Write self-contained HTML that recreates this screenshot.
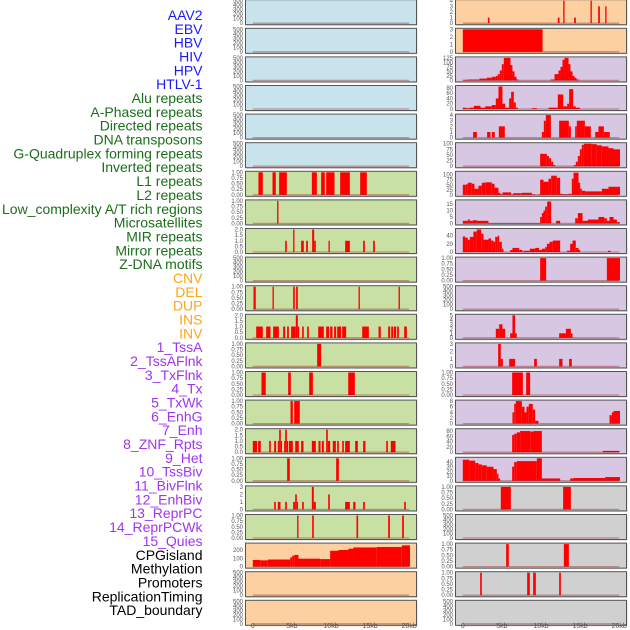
<!DOCTYPE html>
<html><head><meta charset="utf-8">
<style>
html,body{margin:0;padding:0;background:#fff;}
svg{display:block;font-family:"Liberation Sans",sans-serif;}
</style></head>
<body>
<svg id="chart" width="630" height="630" viewBox="0 0 630 630" xmlns="http://www.w3.org/2000/svg"></svg>
<script>
// ---- data: [startKb, endKb, value] ----
const trackLabels = ["AAV2","EBV","HBV","HIV","HPV","HTLV-1","Alu repeats","A-Phased repeats","Directed repeats","DNA transposons","G-Quadruplex forming repeats","Inverted repeats","L1 repeats","L2 repeats","Low_complexity A/T rich regions","Microsatellites","MIR repeats","Mirror repeats","Z-DNA motifs","CNV","DEL","DUP","INS","INV","1_TssA","2_TssAFlnk","3_TxFlnk","4_Tx","5_TxWk","6_EnhG","7_Enh","8_ZNF_Rpts","9_Het","10_TssBiv","11_BivFlnk","12_EnhBiv","13_ReprPC","14_ReprPCWk","15_Quies","CPGisland","Methylation","Promoters","ReplicationTiming","TAD_boundary"];
const labelColors = ["#1a1aff","#1a1aff","#1a1aff","#1a1aff","#1a1aff","#1a1aff","#1a6f1a","#1a6f1a","#1a6f1a","#1a6f1a","#1a6f1a","#1a6f1a","#1a6f1a","#1a6f1a","#1a6f1a","#1a6f1a","#1a6f1a","#1a6f1a","#1a6f1a","#ffa51a","#ffa51a","#ffa51a","#ffa51a","#ffa51a","#a035f0","#a035f0","#a035f0","#a035f0","#a035f0","#a035f0","#a035f0","#a035f0","#a035f0","#a035f0","#a035f0","#a035f0","#a035f0","#a035f0","#a035f0","#000","#000","#000","#000","#000"];
const xTickValues = [0,5,10,15,20];
const xTickLabels = ["0","5kb","10kb","15kb","20kb"];

const L6 = [[0.72,1.28,1],[2.52,2.94,1],[3.37,4.35,1],[7.55,8.19,1],[8.74,9.21,1],[9.38,10.45,1],[11.17,12.41,1],[13.73,14.58,1]];
const L7 = [[3.11,3.28,1]];
const L8 = [[4.14,4.35,1],[5.16,5.33,2],[6.18,6.52,1],[6.82,7.04,1],[7.59,7.85,2],[7.85,8.06,1],[9.68,9.85,1],[11.81,12.41,1],[14.11,14.33,1],[15.39,15.61,1]];
const L10 = [[0.09,0.38,1],[2.52,2.69,1],[5.16,5.37,1],[5.54,5.76,1],[13.52,13.69,1],[18.64,18.81,1]];
const L11 = [[0.43,1.28,1],[1.71,2.26,1],[2.6,3.33,1],[3.88,4.14,1],[4.39,4.61,1],[4.9,5.5,1],[5.5,5.76,2],[5.76,5.93,1],[6.31,6.52,1],[6.95,7.16,1],[8.36,9.08,1],[9.38,9.76,1],[9.89,10.19,1],[10.4,10.66,1],[10.79,11.3,1],[11.43,11.94,1],[13.99,14.84,1],[16.08,16.37,1],[17.31,17.57,1],[17.7,17.95,1],[18.04,18.34,1],[18.46,18.68,1],[19.36,19.7,1]];
const L12 = [[8.23,8.74,1]];
const L13 = [[1.11,1.66,1],[4.52,4.86,1],[7.21,7.68,1],[12.2,13.05,1]];
const L14 = [[4.82,5.12,1],[5.29,6.01,1]];
const L15 = [[0,0.55,1],[0.68,1.02,1],[2.09,2.3,1],[2.73,2.98,1],[3.2,3.37,1],[3.37,3.58,2],[3.58,3.62,1],[4.01,4.14,1],[4.14,4.35,2],[4.35,4.43,1],[4.61,5.12,1],[5.42,5.88,1],[6.18,6.48,1],[7.55,8.06,1],[8.4,8.66,1],[8.83,9.08,1],[9.38,9.59,2],[9.59,9.89,1],[10.23,10.62,1],[10.79,11.0,1],[11.43,11.64,1],[11.81,12.41,1],[13.09,13.43,1],[14.11,14.41,1],[17.06,17.27,1],[17.65,18.25,1]];
const L16 = [[4.39,4.73,1],[10.66,11.0,1]];
const L17 = [[2.73,2.94,1],[3.2,3.54,1],[4.14,4.35,1],[5.16,5.42,1],[5.42,5.63,2],[5.63,5.76,1],[6.31,6.52,1],[7.55,7.8,3],[7.8,8.06,1],[9.64,9.85,2],[11.81,12.41,1],[12.84,13.13,1],[14.11,14.33,1],[19.36,19.57,1]];
const L18 = [[5.67,5.84,1],[7.59,7.8,1],[13.26,13.47,1],[17.31,17.53,1],[19.1,19.32,1]];
const L19 = [[0,0.94,80],[0.94,1.92,75],[1.92,4.78,85],[4.78,5.03,110],[5.03,5.29,130],[5.29,5.84,140],[5.84,8.61,95],[8.61,9.89,90],[9.89,10.96,190],[10.96,12.24,200],[12.24,12.88,215],[12.88,15.86,230],[15.86,19.06,235],[19.06,20.1,255]];

const R0 = [[3.2,3.41,1],[12.15,12.37,1],[12.84,13.01,4],[14.24,14.46,1],[16.33,16.5,4],[17.31,17.53,3],[18.21,18.38,3]];
const R1 = [[0,10.2,3]];
const R2 = [[0,0.6,3],[0.6,2.13,5],[2.13,3.07,10],[3.07,3.71,15],[3.71,4.22,20],[4.22,4.48,25],[4.48,4.73,35],[4.73,4.99,55],[4.99,5.24,90],[5.24,6.1,125],[6.1,6.35,85],[6.35,6.61,50],[6.61,6.87,20],[6.87,7.12,5],[11.21,11.73,5],[11.73,12.24,35],[12.24,12.49,55],[12.49,12.75,75],[12.75,13.01,115],[13.01,13.52,125],[13.52,13.77,90],[13.77,14.03,50],[14.03,14.28,25],[14.28,14.54,15],[14.54,14.88,5]];
const R3 = [[0,0.38,5],[0.38,0.9,3],[0.9,1.41,5],[1.41,2.26,12],[2.26,2.86,5],[2.86,3.71,10],[3.71,4.22,15],[4.22,4.56,40],[4.56,5.07,85],[5.07,5.42,20],[5.42,5.93,5],[5.93,6.18,40],[6.18,6.52,65],[6.52,6.78,25],[6.78,7.04,5],[8.83,9.47,3],[10.96,12.15,5],[12.15,12.84,55],[12.84,13.35,10],[13.35,13.6,20],[13.6,14.11,75],[14.11,14.45,10],[14.45,14.97,5]];
const R4 = [[1.32,1.79,1],[3.11,3.54,1],[3.71,4.09,1],[4.61,5.37,2],[10.11,10.36,1],[10.36,10.62,3],[10.62,11.26,4],[12.32,13.56,3],[13.56,13.82,2],[14.37,14.58,2],[14.58,15.61,3],[15.61,16.37,2],[16.93,17.35,1],[17.35,18.04,2],[18.04,18.8,1]];
const R5 = [[9.89,10.75,55],[10.75,11.04,45],[11.04,11.3,35],[11.3,11.56,20],[11.56,11.81,5],[14.2,14.45,5],[14.45,14.71,20],[14.71,14.97,45],[14.97,15.22,75],[15.22,15.48,95],[15.48,16.5,100],[16.5,17.14,98],[17.14,17.78,93],[17.78,18.63,88],[18.63,19.27,80],[19.27,20.1,75]];
const R6 = [[0,0.38,50],[0.38,0.64,52],[0.64,1.15,60],[1.15,1.49,55],[1.49,2.0,30],[2.0,2.43,45],[2.43,2.86,60],[2.86,3.71,62],[3.71,4.05,55],[4.05,4.56,35],[4.56,4.82,10],[4.82,5.07,3],[5.07,6.18,12],[6.18,6.44,2],[6.44,7.55,8],[7.55,8.83,10],[8.83,9.25,2],[9.68,9.89,2],[9.89,10.32,75],[10.32,10.96,65],[10.96,11.3,80],[11.3,12.02,95],[12.02,12.45,85],[12.45,12.75,5],[12.75,13.52,3],[13.52,13.94,5],[13.94,14.16,80],[14.16,14.8,110],[14.8,15.01,60],[15.01,15.22,30],[15.22,15.65,20],[15.65,17.78,17],[17.78,18.63,30],[18.63,20.1,40]];
const R7 = [[0,0.64,2],[0.64,0.9,3],[0.9,1.28,2],[1.28,1.79,2.5],[1.79,3.28,2],[3.28,9.89,0.3],[9.89,10.11,5],[10.11,10.32,8],[10.32,10.53,10],[10.53,10.79,13],[10.79,11.3,17],[11.94,12.45,2],[14.37,14.71,4],[14.71,15.31,8],[15.31,15.99,2],[15.99,17.35,3],[17.35,18.08,5],[18.08,18.42,4],[18.42,18.76,2],[18.76,19.27,5],[19.27,19.7,3],[19.7,20.1,1]];
const R8 = [[0,0.3,38],[0.3,0.64,35],[0.64,0.9,30],[0.9,1.36,37],[1.36,1.79,50],[1.79,2.35,55],[2.35,2.64,45],[2.64,3.28,30],[3.28,3.62,33],[3.62,3.92,28],[3.92,4.14,25],[4.14,4.48,37],[4.48,4.65,40],[4.65,4.99,25],[4.99,5.2,8],[6.06,6.35,5],[6.35,7.21,10],[7.21,7.63,5],[7.76,8.57,3],[8.57,9.25,8],[9.25,9.76,10],[9.76,10.11,5],[10.11,10.53,8],[10.53,10.75,12],[10.75,11.09,20],[11.09,11.51,25],[11.51,12.45,28],[13.3,13.73,3],[13.73,14.03,20],[14.03,14.45,28],[14.45,14.8,10],[14.8,15.01,5],[18.55,18.89,3]];
const R9 = [[9.89,10.66,1],[18.42,20.1,1]];
const R11 = [[4.22,4.65,2],[4.65,5.07,3],[5.07,5.42,2],[6.06,6.35,1],[6.35,6.69,5],[6.69,6.91,1],[12.32,13.18,1],[13.18,13.82,2],[13.82,14.03,1]];
const R12 = [[4.52,4.86,3],[4.86,5.12,1],[5.93,6.69,1],[9.12,9.47,1],[12.32,12.75,1],[13.6,13.94,1]];
const R13 = [[6.31,7.68,1],[8.1,8.61,1]];
const R14 = [[6.35,6.57,4],[6.57,6.78,7],[6.78,7.55,8],[7.55,7.89,6],[7.89,8.14,4],[8.14,8.44,6],[8.44,8.95,7],[8.95,9.25,5],[9.25,9.68,1],[18.76,19.06,3],[19.06,19.27,4],[19.27,20.1,4.5]];
const R15 = [[6.31,6.57,65],[6.57,6.91,70],[6.91,7.33,75],[7.33,8.61,80],[8.61,9.04,78],[9.04,10.11,80],[17.91,20.04,5]];
const R16 = [[0,0.81,45],[0.81,1.58,43],[1.58,2.0,38],[2.0,2.43,35],[2.43,3.07,33],[3.07,3.92,30],[3.92,4.35,25],[4.35,4.56,15],[4.56,4.78,5],[6.31,6.57,30],[6.57,6.91,40],[6.91,9.47,42],[9.47,10.11,48],[10.11,12.45,5],[13.73,14.16,5],[14.16,18.21,6],[18.21,20.1,8]];
const R17 = [[4.86,6.14,1],[12.83,13.82,1]];
const R19 = [[5.54,5.88,1],[12.92,13.56,1]];
const R20 = [[2.22,2.43,1],[8.23,8.57,1],[9.0,9.34,1],[12.32,12.54,1]];
const EMPTY = [];

// tick sets
const T500 = [0,100,200,300,400,500];
const T1 = [0,0.25,0.5,0.75,1];
const T2 = [0,0.5,1,1.5,2];
const T3 = [0,1,2,3];
const T4 = [0,1,2,3,4];

const BLUE="#c8e3ec", GREEN="#c9e0a4", ORANGE="#fdd0a1", PURPLE="#d7c7e3", GREY="#d0d0d0";
// [data, ymax, ticks, decimals, background]
const leftPanels = [
 [EMPTY,500,T500,0,BLUE],[EMPTY,500,T500,0,BLUE],[EMPTY,500,T500,0,BLUE],[EMPTY,500,T500,0,BLUE],[EMPTY,500,T500,0,BLUE],[EMPTY,500,T500,0,BLUE],
 [L6,1,T1,2,GREEN],[L7,1,T1,2,GREEN],[L8,2,T2,1,GREEN],[EMPTY,500,T500,0,GREEN],[L10,1,T1,2,GREEN],[L11,2,T2,1,GREEN],[L12,1,T1,2,GREEN],[L13,1,T1,2,GREEN],[L14,1,T1,2,GREEN],[L15,2,T2,1,GREEN],[L16,1,T1,2,GREEN],[L17,3,T3,0,GREEN],[L18,1,T1,2,GREEN],
 [L19,270,[0,100,200],0,ORANGE],[EMPTY,500,T500,0,ORANGE],[EMPTY,500,T500,0,ORANGE]
];
const rightPanels = [
 [R0,4,T4,0,ORANGE],[R1,3,T3,0,ORANGE],
 [R2,125,[0,25,50,75,100,125],0,PURPLE],[R3,85,[0,20,40,60,80],0,PURPLE],[R4,4,T4,0,PURPLE],[R5,100,[0,25,50,75,100],0,PURPLE],[R6,112,[0,25,50,75,100],0,PURPLE],[R7,17.5,[0,5,10,15],0,PURPLE],[R8,55,[0,20,40],0,PURPLE],[R9,1,T1,2,PURPLE],[EMPTY,500,T500,0,PURPLE],[R11,5,[0,1,2,3,4,5],0,PURPLE],[R12,3,T3,0,PURPLE],[R13,1,T1,2,PURPLE],[R14,8,[0,2,4,6,8],0,PURPLE],[R15,85,[0,20,40,60,80],0,PURPLE],[R16,48,[0,10,20,30,40],0,PURPLE],
 [R17,1,T1,2,GREY],[EMPTY,500,T500,0,GREY],[R19,1,T1,2,GREY],[R20,1,T1,2,GREY],[EMPTY,500,T500,0,GREY]
];

const NS="http://www.w3.org/2000/svg";
const svg=document.getElementById('chart');
function mk(tag,attrs,parent){const e=document.createElementNS(NS,tag);for(const k in attrs)e.setAttribute(k,attrs[k]);(parent||svg).appendChild(e);return e;}

// labels
const lg=mk('g',{});


trackLabels.forEach((t,i)=>{
  const tx=mk('text',{x:202.5,y:20+i*13.84,'text-anchor':'end','font-size':'14',fill:labelColors[i]},lg);
  tx.textContent=t;
  
  
});

const PITCH=28.6, PH=25, PW=171;
function drawCol(panels,px,colName){
  const x0=px+7.3, xs=7.82;
  const xScale=kb=>x0+kb*xs;
  panels.forEach((p,i)=>{
    const [data,ymax,ticks,dec,bg]=p;
    const top=i*PITCH-0.3, bot=top+PH;
    const yScale=v=>(bot-1.5)-(v/ymax)*(PH-2.5);
    const g=mk('g',{});
    
    
    mk('rect',{x:px+1,y:top+1,width:PW,height:PH,fill:'#bbb',opacity:0.6},g);
    const r=mk('rect',{x:px,y:top,width:PW,height:PH,fill:bg,stroke:'#555','stroke-width':1},g);
    
    
    ticks.forEach(t=>{
      const tt=mk('text',{x:px-2.5,y:yScale(t)+2,'text-anchor':'end','font-size':'6',fill:'#555'},g);
      tt.textContent=t.toFixed(dec);
      
      
    });
    data.forEach(d=>{
      const x1=xScale(d[0]), x2=xScale(d[1]);
      const b=mk('rect',{x:x1,y:yScale(d[2]),width:Math.max(1.2,x2-x1),height:Math.max(0.5,yScale(0)-yScale(d[2])),fill:'#ff0000'},g);
      
      
    });
    const bl=mk('line',{x1:xScale(0),x2:xScale(20),y1:bot-1.5,y2:bot-1.5,stroke:'#8b0000','stroke-opacity':0.35,'stroke-width':1.3},g);
    
    
  });
  xTickValues.forEach((v,k)=>{
    const t=mk('text',{x:xScale(v),y:628,'text-anchor':'middle','font-size':'7',fill:'#555'});
    t.textContent=xTickLabels[k];
    
    
  });
}
drawCol(leftPanels,245.5,'left');
drawCol(rightPanels,455.5,'right');
</script>
</body></html>
